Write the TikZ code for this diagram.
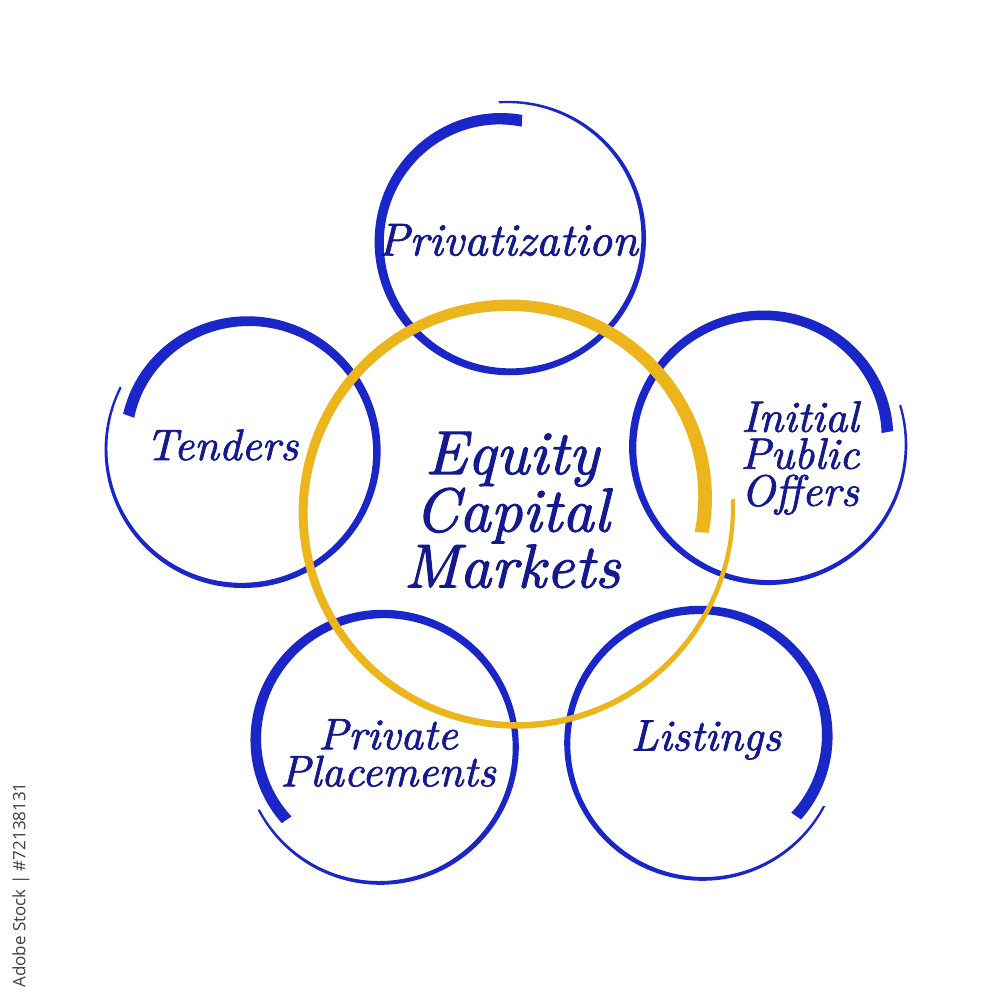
\documentclass[tikz,border=0pt]{standalone}
\usepackage{fontspec}
\newfontfamily\wmfont{Open Sans}
\newfontfamily\handfont{lmroman10-italic.otf}[FakeBold=1.6]
\definecolor{brushblue}{HTML}{1A26C8}
\definecolor{inkblue}{HTML}{15198F}
\definecolor{brushyellow}{HTML}{EDB51C}
% blue brush ring: #1 cx, #2 cy, #3 R, #4 start angle, #5 direction
\newcommand{\brushring}[5]{%
  \fill[brushblue] plot[variable=\t, domain=0:1, samples=200]
    ({#1+(#3+4-18*\t*\t*\t+(2.2+9.5*\t)/2)*cos(#4+#5*371*\t)},
     {#2-(#3+4-18*\t*\t*\t+(2.2+9.5*\t)/2)*sin(#4+#5*371*\t)})
  -- plot[variable=\t, domain=1:0, samples=200]
    ({#1+(#3+4-18*\t*\t*\t-(2.2+9.5*\t)/2)*cos(#4+#5*371*\t)},
     {#2-(#3+4-18*\t*\t*\t-(2.2+9.5*\t)/2)*sin(#4+#5*371*\t)})
  -- cycle;}
\tikzset{
  lbl/.style={text=inkblue, align=center, inner sep=0pt},
  small/.style={font=\handfont\fontsize{44}{37}\selectfont},
  big/.style={font=\handfont\fontsize{62}{56}\selectfont}
}
\begin{document}
\begin{tikzpicture}[x=1pt,y=-1pt]
\useasboundingbox[fill=white] (0,0) rectangle (1000,1000);
% blue rings
\brushring{508}{238}{132}{94}{-1}
\brushring{243}{449}{133}{153}{1}
\brushring{768}{445}{134}{17}{-1}
\brushring{380}{746}{133}{207.5}{1}
\brushring{703}{742}{133}{-27.7}{-1}
% yellow ring
\fill[brushyellow] plot[variable=\t, domain=0:1, samples=240]
    ({515+(218-10*\t-20*\t*\t*\t*\t+(4+10*\t)/2)*cos(3-370*\t)},
     {510-(218-10*\t-20*\t*\t*\t*\t+(4+10*\t)/2)*sin(3-370*\t)})
  -- plot[variable=\t, domain=1:0, samples=240]
    ({515+(218-10*\t-20*\t*\t*\t*\t-(4+10*\t)/2)*cos(3-370*\t)},
     {510-(218-10*\t-20*\t*\t*\t*\t-(4+10*\t)/2)*sin(3-370*\t)})
  -- cycle;
% labels
\node[lbl, small, font=\handfont\fontsize{46}{40}\selectfont] (priv) at (508,240) {Privatization};
\node[lbl, small] (tend) at (222,445) {Tenders};
\node[lbl, big] (ecm) at (512,510) {Equity\\Capital\\Markets};
\node[lbl, small] (ipo) at (800,458) {Initial\\Public\\Offers};
\node[lbl, small] (pp) at (388,753) {Private\\Placements};
\node[lbl, small] (list) at (706,740) {Listings};
% stock watermark text
\node[rotate=90, text=black!75, font=\wmfont\fontsize{17}{17}\selectfont, inner sep=0pt] (wm) at (21,885) {Adobe Stock | \#72138131};
\end{tikzpicture}
\end{document}
